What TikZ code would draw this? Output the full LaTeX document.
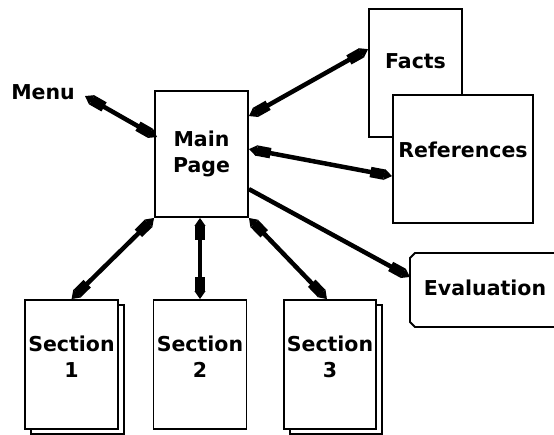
\documentclass[tikz,border=0pt]{standalone}
\usepackage{fontspec}
\setmainfont{DejaVu Sans}
\usetikzlibrary{arrows.meta,calc,shadows}
\begin{document}
\begin{tikzpicture}[x=1pt,y=-1pt,
  every node/.style={font=\fontsize{20.5}{26}\selectfont\bfseries},
  page/.style={draw,line width=1.8pt,fill=white,inner sep=0pt,align=center},
  stack/.style={page,copy shadow={shadow xshift=6pt,shadow yshift=-5pt}},
  hd/.tip={Rectangle[length=14pt,width=10.5pt] Triangle[length=8pt,width=10.5pt]},
  arr/.style={line width=4.5pt,{hd}-{hd}},
  arr1/.style={line width=4.5pt,-{hd}}]
\useasboundingbox (0,0) rectangle (554,435);
\clip (0,0) rectangle (554,435);
\fill[white] (0,0) rectangle (554,435);
% boxes
\node[page,minimum width=93pt,minimum height=128pt,label={[yshift=12pt]center:Facts}] (facts) at (415.5,73) {};
\node[page,minimum width=140pt,minimum height=128pt,label={[yshift=9pt]center:References}] (refs) at (463,159) {};
\node[page,minimum width=93pt,minimum height=126pt] (main) at (201.5,154) {Main\\Page};
\coordinate (evtl) at (415,253);
\coordinate (evbl) at (415,327);
\draw[line width=1.8pt,fill=white] (600,253) -- (evtl) -- ++(-5,5) -- ($(evbl)+(-5,-5)$) -- (evbl) -- (600,327);
\node (eval) at (485,288) {Evaluation};
\node[stack,minimum width=93pt,minimum height=129pt,label={[yshift=8pt,align=center]center:Section\\1}] (sec1) at (71.5,364.5) {};
\node[page,minimum width=93pt,minimum height=129pt,label={[yshift=8pt,align=center]center:Section\\2}] (sec2) at (200,364.5) {};
\node[stack,minimum width=92pt,minimum height=129pt,label={[yshift=8pt,align=center]center:Section\\3}] (sec3) at (330,364.5) {};
\node[inner sep=0pt] (menu) at (43,92) {Menu};
% connectors
\draw[arr] ($(menu.east)+(10,4)$) -- ($(main.north west)+(3,47)$);
\draw[arr] ($(main.north east)+(0,26)$) -- ($(facts.north west)+(0,41)$);
\draw[arr] ($(main.north east)+(0,59)$) -- ($(refs.north west)+(0,82)$);
\draw[arr1] ($(main.north east)+(0,99)$) -- ($(evtl)+(-5,24)$);
\draw[arr] (main.south west) -- (sec1.north);
\draw[arr] (sec2.north |- main.south) -- (sec2.north);
\draw[arr] (main.south east) -- ($(sec3.north)+(-3,0)$);
\end{tikzpicture}
\end{document}
